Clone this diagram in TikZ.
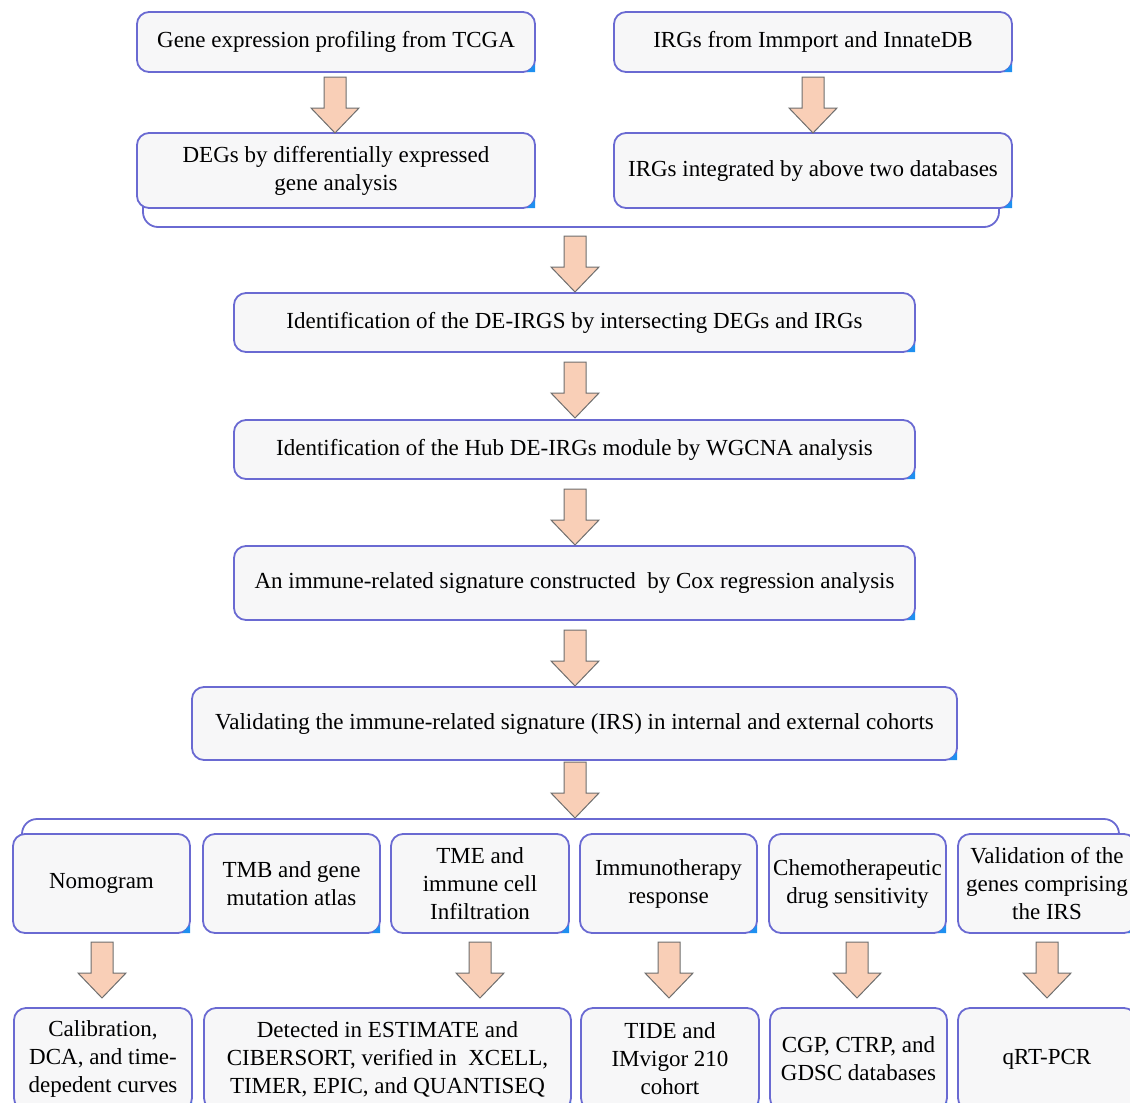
\documentclass[tikz,border=0pt]{standalone}
\usepackage{fontspec}
\newfontfamily\tnr{Liberation Serif}
\definecolor{boxline}{HTML}{6A6AD2}
\definecolor{boxfill}{HTML}{F7F7F8}
\definecolor{arrfill}{HTML}{F9CFB7}
\definecolor{arrline}{HTML}{6E6E6E}
\definecolor{cornerblue}{HTML}{1E90F0}
\newcommand\barrow[2]{%
  \filldraw[arrsty] (#1-11,#2) -- (#1+11,#2) -- (#1+11,#2+31) -- (#1+24,#2+31)
    -- (#1,#2+56) -- (#1-24,#2+31) -- (#1-11,#2+31) -- cycle;}
\newcommand\cornermark[1]{%
  \fill[cornerblue] (#1.south east) ++(-0.9pt,0.9pt) -- ++(-8pt,0) -- ++(8pt,8pt) -- cycle;}
\begin{document}
\begin{tikzpicture}[x=1pt,y=-1pt,
  box/.style={draw=boxline, line width=1.8pt, fill=boxfill, rounded corners=12pt,
    align=center, inner sep=2pt, font=\tnr\fontsize{23}{28}\selectfont},
  arrsty/.style={fill=arrfill, draw=arrline, line width=1pt, line join=miter},
  bracket/.style={draw=boxline, line width=1.8pt, rounded corners=15pt}]
\useasboundingbox (0,0) rectangle (1130,1103);
% brackets
\draw[bracket] (143,200) -- (143,227) -- (999,227) -- (999,200);
\draw[bracket] (22,845) -- (22,819) -- (1119,819) -- (1119,845);
% top boxes
\node[box, minimum width=398pt, minimum height=60pt] (A) at (336,42) {Gene expression profiling from TCGA};
\node[box, minimum width=398pt, minimum height=60pt] (B) at (813,42) {IRGs from Immport and InnateDB};
\node[box, minimum width=398pt, minimum height=75pt] (C) at (336,170.5) {DEGs by differentially expressed\\gene analysis};
\node[box, minimum width=398pt, minimum height=75pt] (D) at (813,170.5) {IRGs integrated by above two databases};
% middle chain
\node[box, minimum width=681pt, minimum height=59pt] (E) at (574.5,322.5) {Identification of the DE-IRGS by intersecting DEGs and IRGs};
\node[box, minimum width=681pt, minimum height=59pt] (F) at (574.5,449.5) {Identification of the Hub DE-IRGs module by WGCNA analysis};
\node[box, minimum width=681pt, minimum height=74pt] (G) at (574.5,583) {An immune-related signature constructed\ \ by Cox regression analysis};
\node[box, minimum width=765pt, minimum height=73pt] (H) at (574.5,723.5) {Validating the immune-related signature (IRS) in internal and external cohorts};
% bottom row 1
\node[box, minimum width=177pt, minimum height=99pt] (N1) at (101.5,883.5) {Nomogram};
\node[box, minimum width=177pt, minimum height=99pt] (N2) at (291.5,883.5) {TMB and gene\\mutation atlas};
\node[box, minimum width=178pt, minimum height=99pt] (N3) at (480,883.5) {TME and\\immune cell\\Infiltration};
\node[box, minimum width=177pt, minimum height=99pt] (N4) at (668.5,883.5) {Immunotherapy\\response};
\node[box, minimum width=177pt, minimum height=99pt] (N5) at (857.5,883.5) {Chemotherapeutic\\drug sensitivity};
\node[box, minimum width=178pt, minimum height=99pt] (N6) at (1047,883.5) {Validation of the\\genes comprising\\the IRS};
% bottom row 2
\node[box, minimum width=178pt, minimum height=102pt] (M1) at (103,1059) {Calibration,\\DCA, and time-\\depedent curves};
\node[box, minimum width=367pt, minimum height=102pt] (M2) at (387.5,1059) {Detected in ESTIMATE and\\CIBERSORT, verified in\ \ XCELL,\\TIMER, EPIC, and QUANTISEQ};
\node[box, minimum width=178pt, minimum height=102pt] (M3) at (670,1059) {TIDE and\\IMvigor 210\\cohort};
\node[box, minimum width=177pt, minimum height=102pt] (M4) at (858.5,1059) {CGP, CTRP, and\\GDSC databases};
\node[box, minimum width=178pt, minimum height=102pt] (M5) at (1047,1059) {qRT-PCR};
\foreach \n in {A,B,C,D,E,F,G,H,N1,N2,N3,N4,N5,N6,M1,M2,M3,M4,M5} {\cornermark{\n}}
% arrows
\barrow{335}{77}
\barrow{813}{77}
\barrow{575}{236}
\barrow{575}{362}
\barrow{575}{489}
\barrow{575}{630}
\barrow{575}{762}
\barrow{102}{942}
\barrow{480}{942}
\barrow{669}{942}
\barrow{857}{942}
\barrow{1047}{942}
\end{tikzpicture}
\end{document}
